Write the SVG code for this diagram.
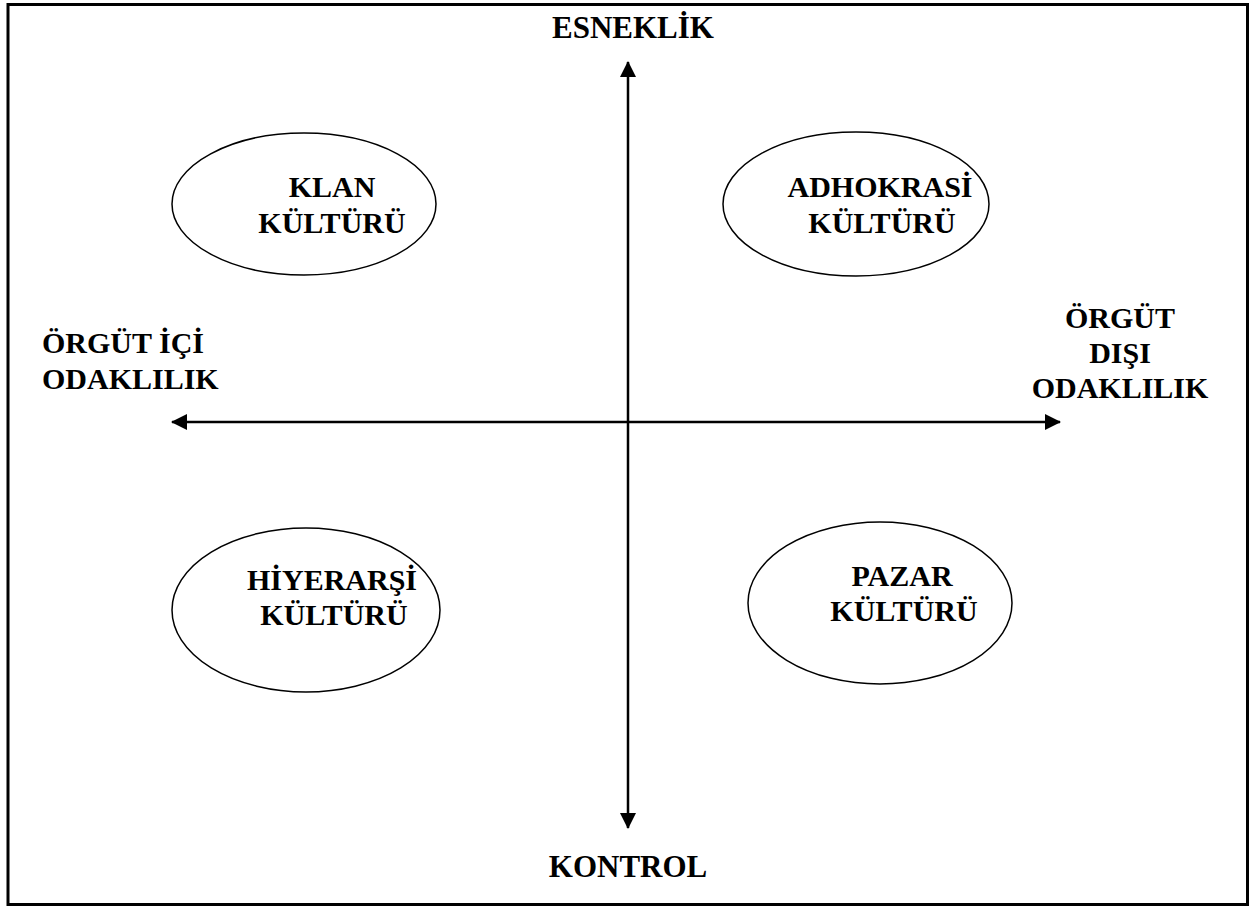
<svg xmlns="http://www.w3.org/2000/svg" width="1250" height="909" viewBox="0 0 1250 909">
  <style>
    .lbl { font-family: "Liberation Serif", "Times New Roman", serif; font-weight: bold; font-size: 30px; fill: #000; }
    .big { font-size: 31px; }
    .mid { text-anchor: middle; }
    .oval { fill: none; stroke: #000; stroke-width: 1.5; }
    .axis { stroke: #000; stroke-width: 2.5; fill: none; }
  </style>
  <defs>
    <marker id="head" viewBox="0 0 16 16" refX="15" refY="8" markerWidth="16" markerHeight="16" markerUnits="userSpaceOnUse" orient="auto-start-reverse">
      <path d="M0,0 L16,8 L0,16 Z" fill="#000"/>
    </marker>
  </defs>

  <!-- outer frame -->
  <rect x="8" y="4.5" width="1239.5" height="900" fill="#fff" stroke="#000" stroke-width="3"/>

  <!-- two double-headed axes -->
  <g id="connectors">
    <line class="axis" x1="628" y1="828" x2="628" y2="62" marker-start="url(#head)" marker-end="url(#head)"/>
    <line class="axis" x1="172" y1="422" x2="1060" y2="422" marker-start="url(#head)" marker-end="url(#head)"/>
  </g>

  <g id="axis-top"><text class="lbl big mid" x="633" y="38">ESNEKLİK</text></g>
  <g id="axis-bottom"><text class="lbl big mid" x="628" y="877">KONTROL</text></g>
  <g id="axis-left">
    <text class="lbl" x="42" y="353">ÖRGÜT İÇİ</text>
    <text class="lbl" x="42" y="389">ODAKLILIK</text>
  </g>
  <g id="axis-right">
    <text class="lbl mid" x="1120" y="328">ÖRGÜT</text>
    <text class="lbl mid" x="1120" y="363">DIŞI</text>
    <text class="lbl mid" x="1120" y="398">ODAKLILIK</text>
  </g>

  <!-- quadrant ovals -->
  <g id="klan">
    <ellipse class="oval" cx="304" cy="204" rx="132" ry="71"/>
    <text class="lbl mid" x="332" y="197">KLAN</text>
    <text class="lbl mid" x="332" y="233">KÜLTÜRÜ</text>
  </g>
  <g id="adhokrasi">
    <ellipse class="oval" cx="856" cy="204" rx="133" ry="72"/>
    <text class="lbl mid" x="880" y="197">ADHOKRASİ</text>
    <text class="lbl mid" x="882" y="233">KÜLTÜRÜ</text>
  </g>
  <g id="hiyerarsi">
    <ellipse class="oval" cx="306" cy="610" rx="134" ry="82"/>
    <text class="lbl mid" x="332" y="590">HİYERARŞİ</text>
    <text class="lbl mid" x="334" y="625">KÜLTÜRÜ</text>
  </g>
  <g id="pazar">
    <ellipse class="oval" cx="880" cy="603" rx="132" ry="81"/>
    <text class="lbl mid" x="902" y="586">PAZAR</text>
    <text class="lbl mid" x="904" y="621">KÜLTÜRÜ</text>
  </g>
</svg>
